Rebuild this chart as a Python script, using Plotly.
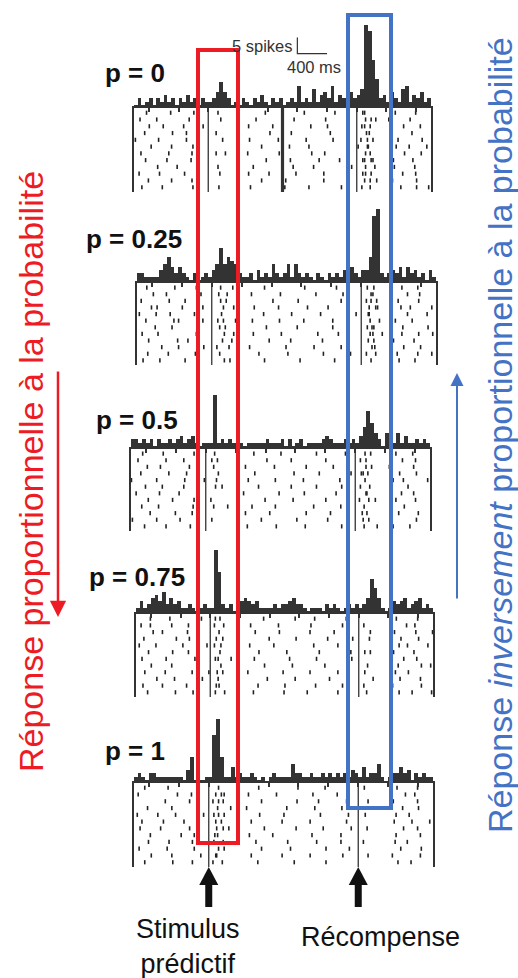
import plotly.graph_objects as go

# ---------------- data ----------------
BIN_W = 0.05          # s, histogram bin / raster column width
T_START, T_END = -1.0, 3.0
TICKS = [-0.8, -0.4, 0.0, 0.4, 0.8, 1.2, 1.6, 2.0, 2.4, 2.8]
EVENTS = [0.0, 2.0]   # stimulus onset, reward
ARTIFACT_P0 = [1.0]
P_LABELS = ["p = 0", "p = 0.25", "p = 0.5", "p = 0.75", "p = 1"]

# spikes per bin (pre | stim | delay | reward | post)
HIST_P0 = ([1, 3, 1, 2, 3, 1, 3, 2, 4, 2, 3, 1, 3, 2, 4, 2, 3, 1, 3, 2]
           + [2, 3, 5, 8, 5, 3, 1, 2]
           + [1, 3, 2, 1, 3, 2, 4, 2, 1, 3, 2, 3, 1, 2, 3, 2, 7, 2, 3, 2, 6, 2, 4, 5, 3, 7, 2, 4, 3, 2, 5, 3]
           + [4, 6, 26, 24, 15, 9, 3, 4]
           + [2, 5, 3, 2, 6, 7, 2, 4, 3, 5, 2, 3])
HIST_P25 = ([3, 3, 2, 2, 2, 2, 4, 6, 8, 5, 3, 5, 3, 2, 1, 3, 1, 2, 3, 2]
            + [4, 6, 11, 6, 8, 7, 6, 3]
            + [2, 2, 3, 1, 4, 2, 3, 2, 6, 3, 2, 3, 6, 2, 6, 3, 2, 3, 2, 1, 3, 2, 1, 3, 2, 3, 2, 4, 3, 5, 3, 2]
            + [4, 4, 8, 21, 23, 3, 2, 3]
            + [4, 3, 5, 2, 5, 3, 4, 2, 3, 1, 4, 2])
HIST_P50 = ([3, 3, 2, 3, 2, 3, 1, 3, 2, 2, 3, 2, 3, 4, 2, 3, 4, 2, 1, 2]
            + [2, 2, 17, 2, 3, 2, 3, 2]
            + [2, 2, 1, 2, 2, 2, 2, 2, 3, 2, 2, 2, 3, 1, 3, 1, 2, 3, 1, 2, 2, 2, 2, 3, 4, 3, 2, 2, 2, 3, 2, 3]
            + [2, 4, 7, 12, 8, 5, 3, 1]
            + [5, 3, 2, 5, 2, 4, 2, 2, 3, 2, 3, 2])
HIST_P75 = ([2, 4, 2, 3, 5, 6, 4, 7, 3, 5, 3, 4, 2, 2, 3, 2, 1, 2, 3, 2]
            + [2, 20, 13, 3, 2, 3, 1, 2]
            + [4, 5, 4, 3, 4, 2, 2, 2, 2, 3, 2, 3, 3, 4, 5, 3, 3, 2, 1, 2, 2, 2, 1, 3, 2, 3, 2, 1, 2, 3, 2, 3]
            + [2, 3, 5, 11, 8, 5, 2, 1]
            + [2, 4, 3, 4, 5, 2, 3, 4, 5, 2, 3, 2])
HIST_P100 = ([2, 3, 2, 1, 3, 3, 2, 2, 2, 2, 2, 2, 2, 1, 4, 8, 1, 1, 1, 2]
             + [2, 15, 20, 8, 2, 2, 5, 2]
             + [3, 2, 2, 3, 2, 1, 2, 0, 2, 3, 2, 2, 2, 2, 6, 3, 3, 2, 2, 3, 2, 2, 3, 2, 3, 2, 3, 2, 3, 2, 4, 3]
             + [2, 5, 2, 3, 3, 6, 2, 0]
             + [2, 3, 3, 5, 3, 4, 1, 3, 2, 3, 2, 2])

# raster: one string per trial; each char is a 50 ms column,
# '.' = no spike, '1'-'4' = spike in that quarter of the column
# segments: pre(20) stim(8) delay(32) reward(8) post(12)
RASTER_P0 = [
    "...2.....4......1... ..3..... .......2.........4........1..... .31..... ..2....4....",
    ".3....1.......4..... ...2.... ....4..........1.......3........ ..24.1.. 3.....2.....",
    "....1..4.....2....3. ........ ..4......2.........3....1....... .213.... ....3....1..",
    "..4.......2...1..... ..1..... ........3.....2.........4...... ..32.... .2....4.....",
    "2.....3.......1..... ...4.... ...1......4.......2......3..... .14.2... ...1.....3..",
    "....3.....1....4.... ........ ......2......4.....1.........3.. 2.41.... ..3...1...4.",
    ".4.......2.....3.... ..1.3... ..3........1.......4...2....... ..23.... ....4....2..",
    "...1....4......2.... ........ .......3......1......4.....2.... .3142... .4.....1....",
    "......2....3.....1.. ..3..... ....1.........4.....2.........3 ..2.4... ..1....3....",
    ".2....4......3...... ...1.... ..4.....2......3.......1....... .324.... ....2..4....",
    "...4......1....3.... ........ ......2.....4..........1....... ..13.2.. .3......1...",
    "..1....3.......4.... ..4..... ...2........3......1.......4.... .2.3.... ...4....1..2",
]
RASTER_P25 = [
    "..3.......1....4.... ..2..3.. ......1.........4........2...... .3.2.... ..4....1....",
    "....2..4.........1.. .4..1... ..3.......2........4.......1.... ..31.... ....2..3....",
    ".1......3...4....... ..24.... ........2......1..........3..... .23.1... .4.....2....",
    "...4.2......1....3.. ...1.4.. ...2.....4.......3.....1........ ..142... ..3..1....4.",
    "3....1..4......2.... ..3..... .....4.......2.......1........3. .41..... ....2....3..",
    "..2......4.1.....3.. .3.1..2. ..4.......1.....3.......2....... ..2.4... .1...3......",
    "....4....2......1... ..13.... ......3.......4.........2....... .342.... ...1.....4..",
    ".2...3.........4.... ...2.4.. ...1......3.........2....4...... ..21.3.. ..4....2...1",
    "...1......4..3...... ..4..2.. .......2.....1.......3.......... .4.2.... 3.....1.....",
    "......3....1.....4.. .2..3... ..1........4.......2......3..... ..43.... ...2...4....",
    "..4.....2......3.... ..1..... ....3.......2........4.......1.. .2.4.... .3.....1..4.",
    ".3....1.....4....... ...24... ......1........3........4....... ..3..... ..1...2.....",
]
RASTER_P50 = [
    "...1....3.......4... ..2..... ....4.......1........3.......2.. ..3.1... ..4....2....",
    ".4.......2....1..... .3.1.... ........2.....4.........1....... .24..... ....3...1...",
    "....2..4.......3.... ..1..... ..3.......2.......4.......1..... ..4.2... .1.....3....",
    "..3.......1...4..... ...2.... .....1.........3......2.......4. .312.... ...4....2...",
    "1.....4.......2....3 ..4..... ...2......3.......1........4.... ..3..... ..1.4......2",
    "...4....2.....1..... ..3.2... ......1.......4......3......2... .2.4.... .3....1.....",
    ".2.....3....4....... ........ ..1........3......2.......4..... ..41.... ....2..3....",
    "....3......1....4... .2...... .......4.......2........1....... .1.3.2.. ..4.....1...",
    "..4....2........3... ..1..4.. ....2.....3.........4.......1... ..2..... .3...1......",
    ".....1.....4....2... ........ ..3......1........4......2...... .4.1.... ...3....4...",
    "2.....4......1...... .3...... ......4.........2.......3....... ..13.... .4......2...",
    "...3.....2.....4.... ........ ...1......4.......3.........2... ..2..4.. ..1...3.....",
]
RASTER_P75 = [
    "...4.....1.......3.. .23..... ......2.......4.....1.......3... ........ ..1....4....",
    ".2.4.....3....1..... .1.3.... ..4.......2........1.......3.... .2...... ....4..1....",
    "....3..1.....4...... ..2..... ....1.....3.......4......2...... ...1.... .3.....2...4",
    "..1.......4...2..... .3.2.... .......4.......1.......3......2. ..4..... ...2....1...",
    "4....2......3......1 .14..... ..3......1.........4......2..... ........ ..4..1....3.",
    "...2.....4....1..... ..3..... .....1......3........2.......4.. .3.1.... .2....4.....",
    ".3......1......4.... .21..3.. ...4.........2......3.........1. ........ ....1..3....",
    "....1....3......2... ..4..... ......3.......1.......4......... ..2..... ..3.....4..2",
    "..2....4.......1...3 .4.2.... ..1........3......4.......2..... .3...... .4...2......",
    ".....3....2......4.. ..1..... .......2......4.........1...... ...4.... ...1....3...",
    ".4.....1.....3...... .32..... ....4.......1.......2......3.... .2...... .1......4...",
    "...1......3....2.... .2.4.... ...3.......4......1.......2..... ..1..... ..4...2....3",
]
RASTER_P100 = [
    "..4......1.......... ..3..... .....2.........4.......1....... .3...... ..2....4....",
    ".1.........3...2.... .4.21... ..3.......1........4......2..... ........ ....3..1....",
    "........2.....4..... .134.... ......1........3.....2......4... ..3..... .2.....4....",
    "...3......1.....4... ..2..4.. ..1.........4.......2......3.... ........ ...4....1...",
    "4.....2....1......3. .23.1... .....3......1........4.......2.. .4...... ..1..3......",
    "..1....4.....2...... .4.2.... ...2.......3.......1........4... ........ .3....2....1",
    ".3.....1......4..... ..14.2.. ......4........2......3.......1. ..2..... ....1..4....",
    "....2.......3...1... .32..... ..4......1.........3.......2.... ........ ..1.....3...",
    "...4.....2.....3.... .2.4.... ....3........1......4......2.... .2...... .4...1......",
    ".2......4.......1... ..3.1... ......1......4.........2.....3.. ........ ...2....4...",
    "....3.....1......4.. .41..... ...2.......3.......1.......4.... ..3..... .1......3...",
    "..4.......2....3.... .1.3.... .....1........4........2....... ........ ..3...1.....",
]

HISTS = [HIST_P0, HIST_P25, HIST_P50, HIST_P75, HIST_P100]
RASTERS = [RASTER_P0, RASTER_P25, RASTER_P50, RASTER_P75, RASTER_P100]

SCALE_SPIKES = 5
SCALE_MS = 400

# ---------------- layout constants (pixels) ----------------
W, H = 518, 978
# left, right, histogram baseline, raster bottom
PANELS_PX = [(134, 431, 108, 192), (137, 436, 283, 365), (131, 430, 449, 531),
             (136, 433, 614, 697), (134, 433, 783, 867)]
PX_PER_SPIKE = 3.2
HIST_H_PX = 95
FONT = "Arial, Liberation Sans, sans-serif"
RED = "#ED1C24"
BLUE = "#4472C4"
INK = "#333333"
SEG_LENS = [20, 8, 32, 8, 12]


def yd(px):
    return 1 - px / H


def parse_raster(rows):
    xs, ys = [], []
    for i, row in enumerate(rows):
        segs = row.split()
        s = "".join(seg.ljust(n, ".")[:n] for seg, n in zip(segs, SEG_LENS))
        for c, ch in enumerate(s):
            if ch.isdigit():
                q = int(ch)
                xs.append(T_START + (c + (q - 0.5) / 4) * BIN_W)
                ys.append(i + 1)
    return xs, ys


def ax_name(prefix, n):
    return prefix if n == 1 else f"{prefix}{n}"


fig = go.Figure()
layout = {}
annotations = []
shapes = []

for k, (hist, raster) in enumerate(zip(HISTS, RASTERS), start=1):
    left, right, base, bot = PANELS_PX[k - 1]
    xa = ax_name("x", k)
    hy = ax_name("y", 2 * k - 1)
    ry = ax_name("y", 2 * k)
    n_tr = len(raster)
    centers = [T_START + (i + 0.5) * BIN_W for i in range(len(hist))]

    fig.add_trace(go.Bar(x=centers, y=hist, width=BIN_W, marker_color=INK,
                         marker_line_width=0, xaxis=xa, yaxis=hy, showlegend=False))
    rx, rr = parse_raster(raster)
    fig.add_trace(go.Scatter(x=rx, y=rr, mode="markers", xaxis=xa, yaxis=ry,
                             marker=dict(symbol="line-ns", size=3,
                                         line=dict(width=1.6, color="#222222")),
                             showlegend=False))
    ex, ey = [], []
    for e in EVENTS:
        ex += [e, e, None]
        ey += [0.3, n_tr + 0.7, None]
    fig.add_trace(go.Scatter(x=ex, y=ey, mode="lines", xaxis=xa, yaxis=ry,
                             line=dict(color=INK, width=1.3), showlegend=False))
    if k == 1:
        ax_, ay_ = [], []
        for e in ARTIFACT_P0:
            ax_ += [e, e, None]
            ay_ += [0.3, n_tr + 0.7, None]
        fig.add_trace(go.Scatter(x=ax_, y=ay_, mode="lines", xaxis=xa, yaxis=ry,
                                 line=dict(color=INK, width=3.2), showlegend=False))
        # scale bar
        sb_t = 1.2
        sb_y = 17
        fig.add_trace(go.Scatter(x=[sb_t, sb_t, sb_t + SCALE_MS / 1000],
                                 y=[sb_y + SCALE_SPIKES, sb_y, sb_y],
                                 mode="lines", xaxis=xa, yaxis=hy,
                                 line=dict(color=INK, width=1.2), showlegend=False))

    layout[ax_name("xaxis", k)] = dict(
        domain=[left / W, right / W], range=[T_START, T_END], anchor=ry, side="top",
        showline=True, linecolor=INK, linewidth=2, ticks="inside", tickvals=TICKS,
        ticklen=4, tickwidth=1.5, tickcolor=INK, showticklabels=False,
        showgrid=False, zeroline=False, fixedrange=True)
    layout[ax_name("yaxis", 2 * k - 1)] = dict(
        domain=[yd(base), yd(base - HIST_H_PX)], range=[0, HIST_H_PX / PX_PER_SPIKE],
        anchor=xa, visible=False, fixedrange=True)
    layout[ax_name("yaxis", 2 * k)] = dict(
        domain=[yd(bot), yd(base)], range=[n_tr + 0.7, 0.3], anchor=xa,
        showline=True, mirror=True, linecolor=INK, linewidth=1.5, ticks="",
        showticklabels=False, showgrid=False, zeroline=False, fixedrange=True)

# p labels
P_POS = [(103, 73), (84, 239), (94, 420), (87, 577), (103, 751)]
for lab, (px, py) in zip(P_LABELS, P_POS):
    annotations.append(dict(text=f"<b>{lab}</b>", x=px / W, y=yd(py), xref="paper",
                            yref="paper", xanchor="left", yanchor="middle",
                            showarrow=False, font=dict(family=FONT, size=26, color="#111111")))

# scale bar labels
annotations.append(dict(text="5 spikes", x=295 / W, y=yd(46), xref="paper", yref="paper",
                        xanchor="right", yanchor="middle", showarrow=False,
                        font=dict(family=FONT, size=16.5, color=INK)))
annotations.append(dict(text="400 ms", x=314 / W, y=yd(67), xref="paper", yref="paper",
                        xanchor="center", yanchor="middle", showarrow=False,
                        font=dict(family=FONT, size=16.5, color=INK)))

# bottom labels
annotations.append(dict(text="Stimulus<br>prédictif", x=188 / W, y=yd(946), xref="paper",
                        yref="paper", xanchor="center", yanchor="middle", showarrow=False,
                        font=dict(family=FONT, size=27, color="#111111")))
annotations.append(dict(text="Récompense", x=380 / W, y=yd(937), xref="paper",
                        yref="paper", xanchor="center", yanchor="middle", showarrow=False,
                        font=dict(family=FONT, size=27, color="#111111")))

# side texts
annotations.append(dict(text="Réponse proportionnelle à la probabilité", x=31 / W, y=yd(472),
                        xref="paper", yref="paper", xanchor="center", yanchor="middle",
                        textangle=-90, showarrow=False,
                        font=dict(family=FONT, size=34, color=RED)))
annotations.append(dict(text="Réponse <i>inversement</i> proportionnelle à la probabilité",
                        x=500 / W, y=yd(435), xref="paper", yref="paper",
                        xanchor="center", yanchor="middle", textangle=-90, showarrow=False,
                        font=dict(family=FONT, size=34, color=BLUE)))

# side arrows
annotations.append(dict(text="", x=58 / W, y=yd(617), xref="paper", yref="paper",
                        ax=0, ay=-247, showarrow=True, arrowhead=2, arrowsize=1.3,
                        arrowwidth=2.5, arrowcolor=RED))
annotations.append(dict(text="", x=457 / W, y=yd(373), xref="paper", yref="paper",
                        ax=0, ay=227, showarrow=True, arrowhead=2, arrowsize=1.3,
                        arrowwidth=2, arrowcolor=BLUE))

# highlight boxes
shapes.append(dict(type="rect", xref="paper", yref="paper", x0=198 / W, x1=238 / W,
                   y0=yd(843), y1=yd(50), line=dict(color=RED, width=4),
                   fillcolor="rgba(0,0,0,0)"))
shapes.append(dict(type="rect", xref="paper", yref="paper", x0=348 / W, x1=391 / W,
                   y0=yd(808), y1=yd(15), line=dict(color=BLUE, width=4),
                   fillcolor="rgba(0,0,0,0)"))

# black event arrows below the last panel
px_per_s = (PANELS_PX[-1][1] - PANELS_PX[-1][0]) / (T_END - T_START)
half_head = 9.5 / px_per_s
half_shaft = 3.5 / px_per_s
last_x = ax_name("x", len(HISTS))
for e in EVENTS:
    shapes.append(dict(type="rect", xref=last_x, yref="paper",
                       x0=e - half_shaft, x1=e + half_shaft, y0=yd(907), y1=yd(884),
                       fillcolor="#111111", line=dict(width=0)))
    shapes.append(dict(type="path", xref=last_x, yref="paper",
                       path=f"M {e - half_head},{yd(885)} L {e + half_head},{yd(885)} L {e},{yd(867)} Z",
                       fillcolor="#111111", line=dict(width=0)))

fig.update_layout(width=W, height=H, margin=dict(l=0, r=0, t=0, b=0),
                  paper_bgcolor="white", plot_bgcolor="rgba(0,0,0,0)",
                  barmode="overlay", bargap=0, showlegend=False,
                  annotations=annotations, shapes=shapes, **layout)

fig.write_html("out.html", config={"displayModeBar": False},
               post_script="document.body.style.margin='0';document.body.style.overflow='hidden';")
